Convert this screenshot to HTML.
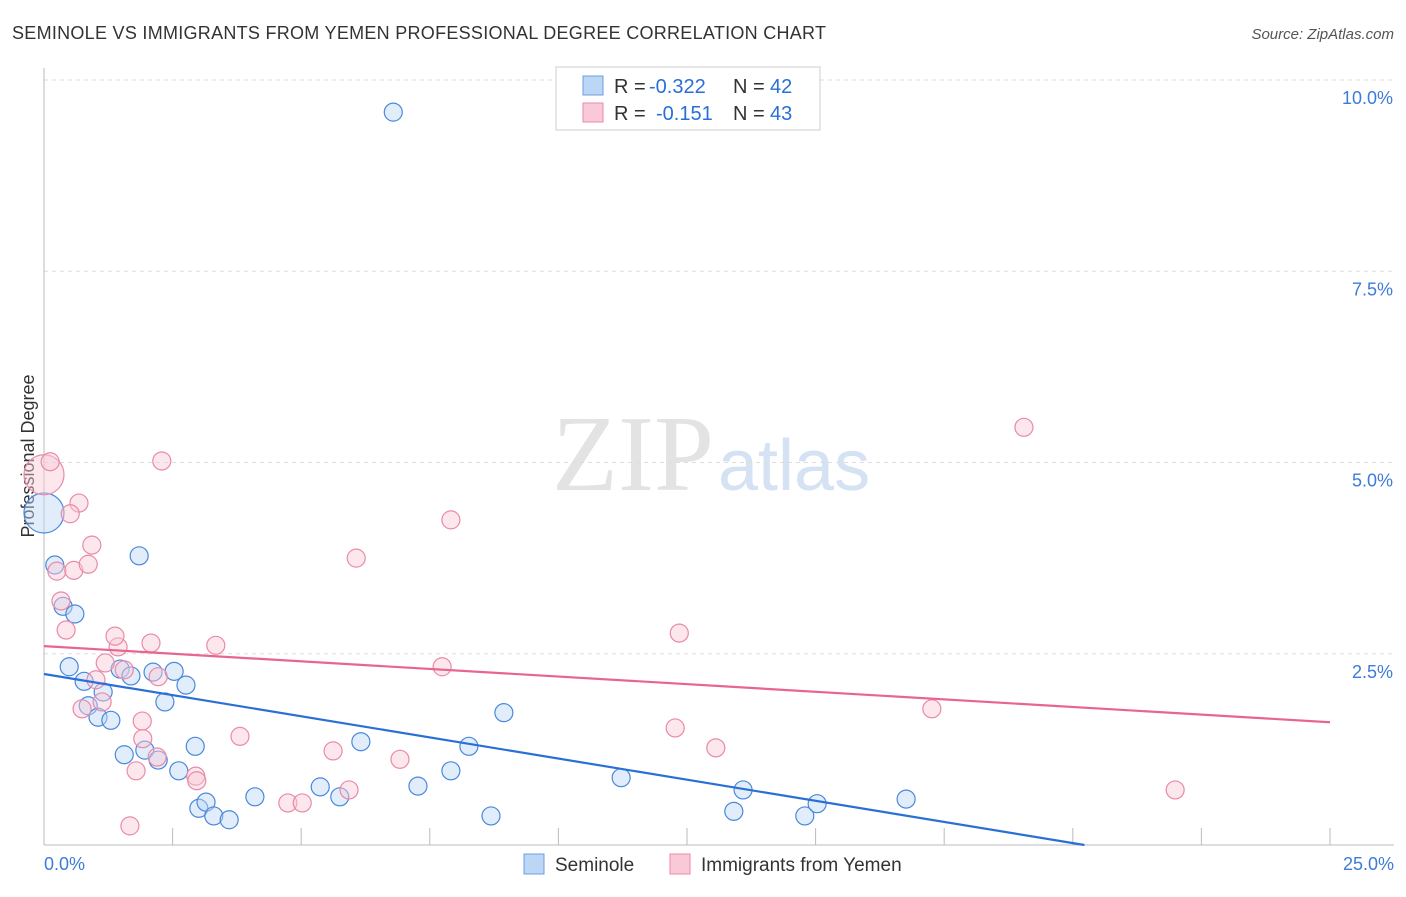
<!DOCTYPE html>
<html><head><meta charset="utf-8"><style>
body{margin:0;background:#fff;font-family:"Liberation Sans",sans-serif;}
</style></head><body>
<svg id="c" width="1406" height="892" xmlns="http://www.w3.org/2000/svg">
<text x="12" y="39" font-size="18" fill="#333" textLength="814">SEMINOLE VS IMMIGRANTS FROM YEMEN PROFESSIONAL DEGREE CORRELATION CHART</text>
<text x="1394" y="39" font-size="15" fill="#555" font-style="italic" text-anchor="end">Source: ZipAtlas.com</text>
<text x="714" y="490" font-size="108" fill="#e3e3e3" text-anchor="end" font-family="Liberation Serif,serif">ZIP</text>
<text x="718" y="490" font-size="72" fill="#d5e2f3">atlas</text>
<text transform="translate(34,456) rotate(-90)" font-size="18" fill="#333" text-anchor="middle">Professional Degree</text>
<g id="grid"></g><g id="pts"></g><g id="lines"></g>
<g font-size="20" fill="#333">
<rect x="556" y="67" width="264" height="63" fill="#fff" stroke="#ccc"/>
<rect x="583" y="76" width="20" height="19" fill="#bcd6f5" stroke="#6a9fe0"/>
<rect x="583" y="103" width="20" height="19" fill="#f9c9d8" stroke="#e98aa9"/>
<text x="614" y="93">R =</text><text x="649" y="93" fill="#2a6fd6">-0.322</text><text x="733" y="93">N =</text><text x="770" y="93" fill="#2a6fd6">42</text>
<text x="614" y="120">R =</text><text x="656" y="120" fill="#2a6fd6">-0.151</text><text x="733" y="120">N =</text><text x="770" y="120" fill="#2a6fd6">43</text>
</g>
<g>
<rect x="524" y="854" width="20" height="20" fill="#bcd6f5" stroke="#6a9fe0"/>
<text x="555" y="871" font-size="19" fill="#333">Seminole</text>
<rect x="670" y="854" width="20" height="20" fill="#f9c9d8" stroke="#e98aa9"/>
<text x="701" y="871" font-size="19" fill="#333">Immigrants from Yemen</text>
</g>
</svg>
<script>
const xTicks=[0,2.5,5,7.5,10,12.5,15,17.5,20,22.5,25];
const yTicks=[2.5,5.0,7.5,10.0];
const yTickLabels=["2.5%","5.0%","7.5%","10.0%"];
const blueX=[6.79,0,0.21,1.85,0.37,0.60,0.49,0.78,1.15,0.86,1.05,1.30,1.48,1.69,2.12,2.53,2.76,2.35,1.56,1.96,2.22,2.94,2.62,3.01,3.15,3.30,3.60,4.10,5.37,5.75,6.16,7.27,7.91,8.26,8.69,8.94,11.22,13.41,13.59,14.79,15.03,16.76];
const blueY=[9.58,4.34,3.66,3.78,3.12,3.02,2.33,2.14,2.00,1.82,1.67,1.63,2.30,2.21,2.26,2.27,2.09,1.87,1.18,1.24,1.11,1.29,0.97,0.48,0.56,0.38,0.33,0.63,0.76,0.63,1.35,0.77,0.97,1.29,0.38,1.73,0.88,0.44,0.72,0.38,0.54,0.60];
const pinkX=[0,0.12,2.29,0.68,0.51,0.93,0.25,0.58,0.86,0.33,0.43,1.19,1.01,1.13,0.74,1.44,1.38,2.08,3.34,1.56,2.22,1.91,1.92,2.20,1.79,1.67,2.95,2.97,3.81,4.74,5.02,5.62,5.93,6.92,7.74,7.91,6.07,12.35,12.27,13.06,17.26,19.05,21.99];
const pinkY=[4.84,5.01,5.02,4.47,4.33,3.92,3.58,3.59,3.67,3.19,2.81,2.38,2.16,1.87,1.78,2.59,2.73,2.64,2.61,2.29,2.20,1.62,1.39,1.15,0.97,0.25,0.90,0.84,1.42,0.55,0.55,1.23,0.72,1.12,2.33,4.25,3.75,2.77,1.53,1.27,1.78,5.46,0.72];
const blueBig=[1];const pinkBig=[0];
const blueTrend=[2.235,-0.1105];const pinkTrend=[2.60,-0.0398];
const NS="http://www.w3.org/2000/svg";
const sx=v=>44+v/25*1286, sy=v=>845-v*76.5;
function mk(t,a,p){const e=document.createElementNS(NS,t);for(const k in a)e.setAttribute(k,a[k]);p.appendChild(e);return e;}
const g=document.getElementById('grid');
yTicks.forEach((t,i)=>{
 const l=mk('line',{x1:44,x2:1394,y1:sy(t),y2:sy(t),stroke:'#ddd','stroke-dasharray':'4,4'},g);
 
 
 const tx=mk('text',{x:1393,y:sy(t)+24,'font-size':18,fill:'#3d7bd9','text-anchor':'end'},g);tx.textContent=yTickLabels[i];
 
 
});
mk('line',{x1:44,x2:44,y1:68,y2:845,stroke:'#bbb'},g);
mk('line',{x1:44,x2:1394,y1:845,y2:845,stroke:'#bbb'},g);
xTicks.forEach(t=>{const l=mk('line',{x1:sx(t),x2:sx(t),y1:828,y2:845,stroke:'#bbb'},g);
 
 });
let a=mk('text',{x:44,y:870,'font-size':18,fill:'#3d7bd9'},g);a.textContent='0.0%';


a=mk('text',{x:1394,y:870,'font-size':18,fill:'#3d7bd9','text-anchor':'end'},g);a.textContent='25.0%';


const p=document.getElementById('pts');
function pts(X,Y,big,fill,stroke,name){X.forEach((x,i)=>{const c=mk('circle',{cx:sx(x),cy:sy(Y[i]),r:big.includes(i)?20:9,fill:fill,'fill-opacity':0.45,stroke:stroke,'stroke-width':1.2},p);
 
 });}
pts(blueX,blueY,blueBig,'#bcd6f5','#4a88dd','seminole-point');
pts(pinkX,pinkY,pinkBig,'#f9c9d8','#e98aa9','yemen-point');
const L=document.getElementById('lines');
let xe=Math.min(25,-blueTrend[0]/blueTrend[1]);
let bl=mk('line',{x1:sx(0),y1:sy(blueTrend[0]),x2:sx(xe),y2:sy(blueTrend[0]+blueTrend[1]*xe),stroke:'#2a6fd6','stroke-width':2.2},L);


let pl=mk('line',{x1:sx(0),y1:sy(pinkTrend[0]),x2:sx(25),y2:sy(pinkTrend[0]+pinkTrend[1]*25),stroke:'#e8658f','stroke-width':2.2},L);


</script>
</body></html>
